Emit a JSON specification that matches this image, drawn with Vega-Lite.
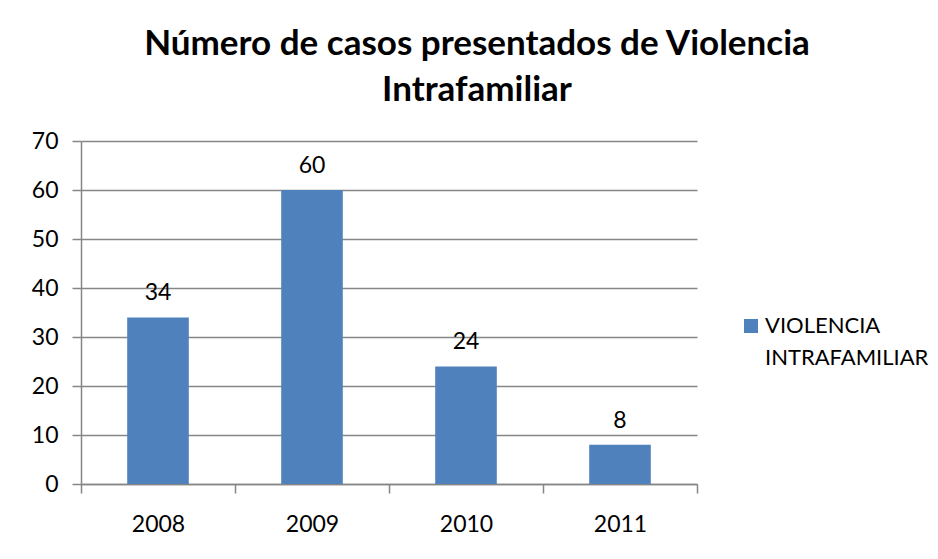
{
  "$schema": "https://vega.github.io/schema/vega-lite/v6.json",
  "width": 616,
  "height": 343,
  "autosize": {"type": "none"},
  "padding": {"left": 81, "top": 141, "right": 241, "bottom": 75},
  "background": "white",
  "title": {
    "text": ["Número de casos presentados de Violencia", "Intrafamiliar"],
    "font": "Lato",
    "fontSize": 35,
    "fontWeight": "bold",
    "color": "#000000",
    "lineHeight": 46,
    "anchor": "middle",
    "dx": 88,
    "offset": 22
  },
  "data": {
    "values": [
      {"year": "2008", "casos": 34, "serie": "VIOLENCIA INTRAFAMILIAR"},
      {"year": "2009", "casos": 60, "serie": "VIOLENCIA INTRAFAMILIAR"},
      {"year": "2010", "casos": 24, "serie": "VIOLENCIA INTRAFAMILIAR"},
      {"year": "2011", "casos": 8, "serie": "VIOLENCIA INTRAFAMILIAR"}
    ]
  },
  "encoding": {
    "x": {
      "field": "year",
      "type": "ordinal",
      "scale": {"paddingInner": 0, "paddingOuter": 0},
      "axis": {
        "title": null,
        "labelAngle": 0,
        "labelFont": "Lato",
        "labelFontSize": 23,
        "labelColor": "#000000",
        "labelPadding": 20,
        "tickBand": "extent",
        "tickSize": 9,
        "tickColor": "#868686",
        "tickWidth": 1.5,
        "domainColor": "#868686",
        "domainWidth": 1.5,
        "grid": false
      }
    },
    "y": {
      "field": "casos",
      "type": "quantitative",
      "scale": {"domain": [0, 70], "nice": false},
      "axis": {
        "title": null,
        "values": [0, 10, 20, 30, 40, 50, 60, 70],
        "labelFont": "Lato",
        "labelFontSize": 23,
        "labelColor": "#000000",
        "labelPadding": 14,
        "tickSize": 9,
        "tickColor": "#868686",
        "tickWidth": 1.5,
        "domainColor": "#868686",
        "domainWidth": 1.5,
        "grid": true,
        "gridColor": "#868686",
        "gridWidth": 1.5
      }
    }
  },
  "layer": [
    {
      "mark": {"type": "bar", "width": {"band": 0.4}},
      "encoding": {
        "color": {
          "field": "serie",
          "type": "nominal",
          "scale": {"range": ["#4F81BD"]},
          "legend": {
            "title": null,
            "orient": "none",
            "legendX": 659,
            "legendY": 174,
            "symbolType": "square",
            "symbolSize": 196,
            "symbolStrokeWidth": 0,
            "labelFont": "Lato",
            "labelFontSize": 22,
            "labelColor": "#000000",
            "labelOffset": 3,
            "labelLimit": 300,
            "labelBaseline": "middle",
            "labelExpr": "['VIOLENCIA', 'INTRAFAMILIAR']"
          }
        }
      }
    },
    {
      "mark": {
        "type": "text",
        "font": "Lato",
        "fontSize": 23,
        "color": "#000000",
        "baseline": "alphabetic",
        "dy": -17
      },
      "encoding": {"text": {"field": "casos", "type": "quantitative"}}
    }
  ],
  "config": {
    "view": {"stroke": null},
    "style": {"guide-label": {"lineHeight": 32}}
  }
}
